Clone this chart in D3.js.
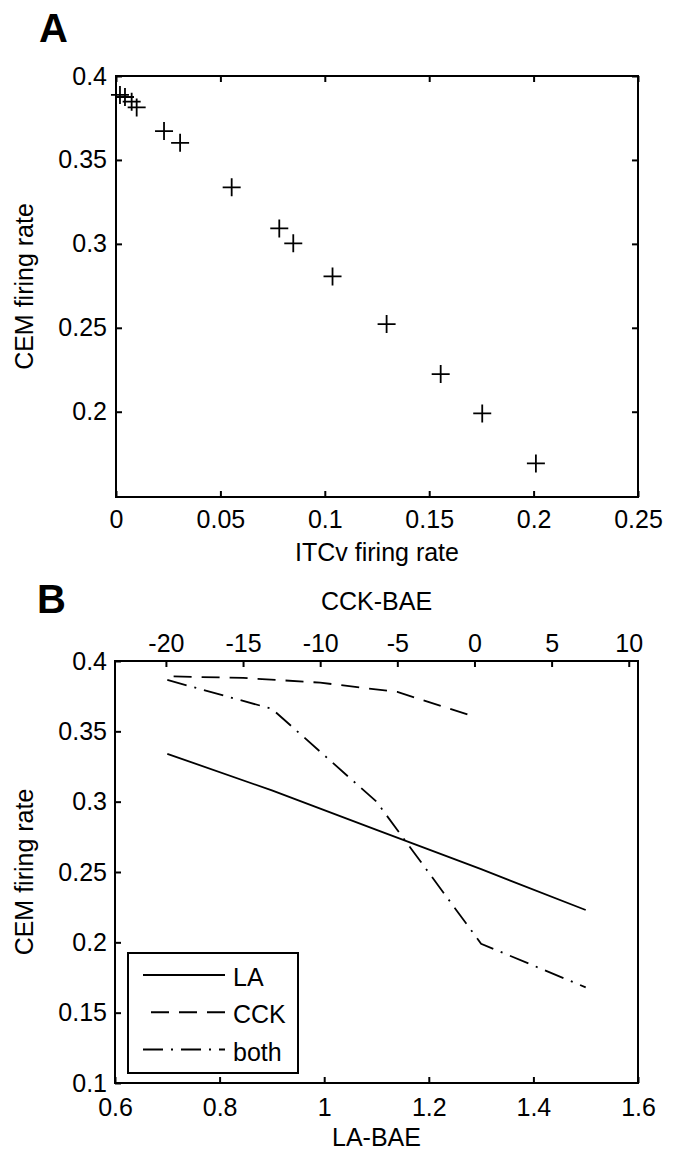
<!DOCTYPE html>
<html>
<head>
<meta charset="utf-8">
<script src="https://cdn.jsdelivr.net/npm/d3@7"></script>
<style>
  html, body { margin: 0; padding: 0; background: #fff; }
  svg { display: block; }
  text { font-family: "Liberation Sans", Arial, sans-serif; fill: #000; }
</style>
</head>
<body>
<svg id="chart" width="678" height="1151"></svg>
<script>
// ---------- Data ----------
// Panel A: scatter (ITCv firing rate vs CEM firing rate)
const itcvRate = [0.0019, 0.0043, 0.0075, 0.0099, 0.0230, 0.0307, 0.0554, 0.0782, 0.0849, 0.1037, 0.1296, 0.1555, 0.1754, 0.2011];
const cemRateA = [0.3887, 0.3875, 0.3847, 0.3813, 0.3672, 0.3602, 0.3337, 0.3092, 0.3003, 0.2806, 0.2522, 0.2224, 0.1990, 0.1692];
const xTicksA = [0, 0.05, 0.1, 0.15, 0.2, 0.25];
const xTickLabelsA = ["0", "0.05", "0.1", "0.15", "0.2", "0.25"];
const yTicksA = [0.2, 0.25, 0.3, 0.35, 0.4];
const yTickLabelsA = ["0.2", "0.25", "0.3", "0.35", "0.4"];

// Panel B: lines
const laBae = [0.7, 0.9, 1.1, 1.3, 1.5];
const cemLA = [0.334, 0.308, 0.280, 0.252, 0.223];
const cckBae = [-19.5, -15, -10, -5, 0];
const cemCCK = [0.389, 0.388, 0.3846, 0.378, 0.3604];
const bothBae = [0.7, 0.9, 1.1, 1.3, 1.5];
const cemBoth = [0.3865, 0.366, 0.300, 0.199, 0.168];
const xTicksB = [0.6, 0.8, 1, 1.2, 1.4, 1.6];
const xTickLabelsB = ["0.6", "0.8", "1", "1.2", "1.4", "1.6"];
const topTicksB = [-20, -15, -10, -5, 0, 5, 10];
const topTickLabelsB = ["-20", "-15", "-10", "-5", "0", "5", "10"];
const yTicksB = [0.1, 0.15, 0.2, 0.25, 0.3, 0.35, 0.4];
const yTickLabelsB = ["0.1", "0.15", "0.2", "0.25", "0.3", "0.35", "0.4"];
const legendNames = ["LA", "CCK", "both"];

// ---------- Setup ----------
const svg = d3.select("#chart");
const FONT = 25;
const dashes = { LA: null, CCK: "18,10", both: "20,8,2,8" };

function styleAxis(g) {
  g.attr("font-size", FONT).attr("font-family", '"Liberation Sans", Arial, sans-serif');
  g.select(".domain").remove();
  g.selectAll(".tick line").attr("stroke", "#000").attr("stroke-width", 2);
  g.selectAll(".tick text").attr("fill", "#000");
}
function labelFmt(ticks, labels) {
  return d => { const i = ticks.findIndex(t => Math.abs(t - d) < 1e-9); return i >= 0 ? labels[i] : ""; };
}

// ---------- Panel A ----------
const xA = d3.scaleLinear().domain([0, 0.25]).range([116, 638]);
const yA = d3.scaleLinear().domain([0.1492, 0.4]).range([497, 76]);

svg.append("g").attr("transform", `translate(0,${yA.range()[0]})`)
  .call(d3.axisBottom(xA).tickValues(xTicksA).tickFormat(labelFmt(xTicksA, xTickLabelsA)).tickSizeInner(-6).tickSizeOuter(0).tickPadding(13))
  .call(styleAxis);
svg.append("g").attr("transform", `translate(0,${yA.range()[1]})`)
  .call(d3.axisTop(xA).tickValues(xTicksA).tickFormat("").tickSizeInner(-6).tickSizeOuter(0))
  .call(styleAxis);
svg.append("g").attr("transform", `translate(${xA.range()[0]},0)`)
  .call(d3.axisLeft(yA).tickValues(yTicksA).tickFormat(labelFmt(yTicksA, yTickLabelsA)).tickSizeInner(-6).tickSizeOuter(0).tickPadding(9))
  .call(styleAxis);
svg.append("g").attr("transform", `translate(${xA.range()[1]},0)`)
  .call(d3.axisRight(yA).tickValues(yTicksA).tickFormat("").tickSizeInner(-6).tickSizeOuter(0))
  .call(styleAxis);

svg.append("rect")
  .attr("x", xA.range()[0]).attr("y", yA.range()[1])
  .attr("width", xA.range()[1] - xA.range()[0]).attr("height", yA.range()[0] - yA.range()[1])
  .attr("fill", "none").attr("stroke", "#000").attr("stroke-width", 2);

svg.append("g").selectAll("path").data(itcvRate.map((v, i) => [v, cemRateA[i]])).join("path")
  .attr("d", "M-9,0H9M0,-9V9")
  .attr("transform", d => `translate(${xA(d[0])},${yA(d[1])})`)
  .attr("stroke", "#000").attr("stroke-width", 1.8).attr("fill", "none");

svg.append("text").attr("x", (xA.range()[0] + xA.range()[1]) / 2).attr("y", 561)
  .attr("text-anchor", "middle").attr("font-size", FONT).text("ITCv firing rate");
svg.append("text").attr("transform", `translate(33,${(yA.range()[0] + yA.range()[1]) / 2}) rotate(-90)`)
  .attr("text-anchor", "middle").attr("font-size", FONT).text("CEM firing rate");
svg.append("text").attr("x", 39).attr("y", 42).attr("font-size", 40).attr("font-weight", "bold").text("A");

// ---------- Panel B ----------
const xB = d3.scaleLinear().domain([0.6, 1.6]).range([115, 638]);
const xTopB = d3.scaleLinear().domain([-23.3, 10.6]).range([115, 638]);
const yB = d3.scaleLinear().domain([0.1, 0.4]).range([1083, 661]);

svg.append("g").attr("transform", `translate(0,${yB.range()[0]})`)
  .call(d3.axisBottom(xB).tickValues(xTicksB).tickFormat(labelFmt(xTicksB, xTickLabelsB)).tickSizeInner(-6).tickSizeOuter(0).tickPadding(15))
  .call(styleAxis);
svg.append("g").attr("transform", `translate(0,${yB.range()[1]})`)
  .call(d3.axisTop(xTopB).tickValues(topTicksB).tickFormat(labelFmt(topTicksB, topTickLabelsB)).tickSizeInner(-6).tickSizeOuter(0).tickPadding(9))
  .call(styleAxis);
svg.append("g").attr("transform", `translate(${xB.range()[0]},0)`)
  .call(d3.axisLeft(yB).tickValues(yTicksB).tickFormat(labelFmt(yTicksB, yTickLabelsB)).tickSizeInner(-6).tickSizeOuter(0).tickPadding(8))
  .call(styleAxis);

svg.append("rect")
  .attr("x", xB.range()[0]).attr("y", yB.range()[1])
  .attr("width", xB.range()[1] - xB.range()[0]).attr("height", yB.range()[0] - yB.range()[1])
  .attr("fill", "none").attr("stroke", "#000").attr("stroke-width", 2);

const lineGen = (xs) => d3.line().x(d => xs(d[0])).y(d => yB(d[1]));
const seriesB = [
  { name: "LA", xs: xB, pts: laBae.map((v, i) => [v, cemLA[i]]) },
  { name: "CCK", xs: xTopB, pts: cckBae.map((v, i) => [v, cemCCK[i]]) },
  { name: "both", xs: xB, pts: bothBae.map((v, i) => [v, cemBoth[i]]) }
];
seriesB.forEach(s => {
  svg.append("path").datum(s.pts)
    .attr("d", lineGen(s.xs))
    .attr("fill", "none").attr("stroke", "#000").attr("stroke-width", 1.8)
    .attr("stroke-dasharray", dashes[s.name]);
});

svg.append("text").attr("x", (xB.range()[0] + xB.range()[1]) / 2).attr("y", 610)
  .attr("text-anchor", "middle").attr("font-size", FONT).text("CCK-BAE");
svg.append("text").attr("x", (xB.range()[0] + xB.range()[1]) / 2).attr("y", 1146)
  .attr("text-anchor", "middle").attr("font-size", FONT).text("LA-BAE");
svg.append("text").attr("transform", `translate(33,${(yB.range()[0] + yB.range()[1]) / 2}) rotate(-90)`)
  .attr("text-anchor", "middle").attr("font-size", FONT).text("CEM firing rate");
svg.append("text").attr("x", 37).attr("y", 613).attr("font-size", 40).attr("font-weight", "bold").text("B");

// Legend
const leg = svg.append("g");
leg.append("rect").attr("x", 128).attr("y", 953).attr("width", 170).attr("height", 120)
  .attr("fill", "#fff").attr("stroke", "#000").attr("stroke-width", 2);
const legY = d3.scalePoint().domain(legendNames).range([975, 1049.5]);
legendNames.forEach(n => {
  const y = legY(n);
  const x0 = n === "CCK" ? 151 : 143;
  leg.append("line").attr("x1", x0).attr("x2", 225).attr("y1", y).attr("y2", y)
    .attr("stroke", "#000").attr("stroke-width", 1.8).attr("stroke-dasharray", dashes[n]);
  leg.append("text").attr("x", 233).attr("y", y + 2).attr("dominant-baseline", "central")
    .attr("font-size", FONT).text(n);
});
</script>
</body>
</html>
